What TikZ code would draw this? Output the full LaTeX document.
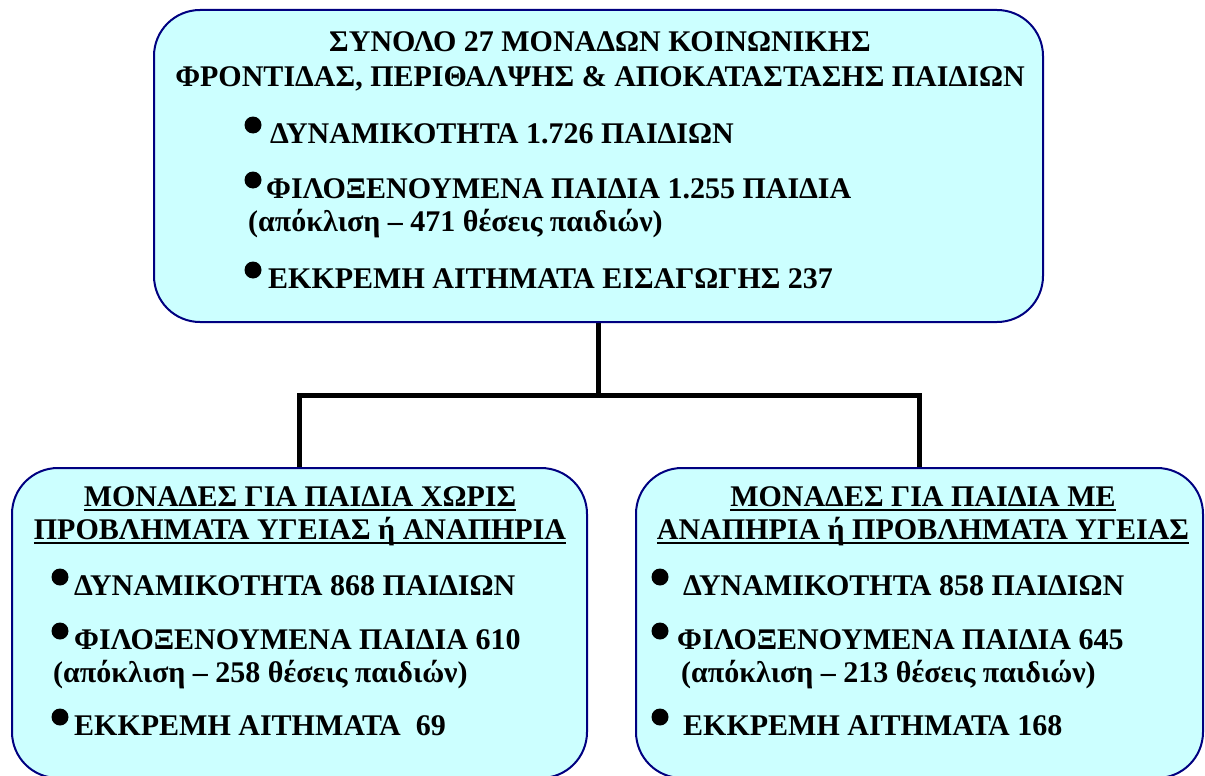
\documentclass[tikz,border=0pt]{standalone}
\usepackage{fontspec}
\setmainfont{Liberation Serif}
\usetikzlibrary{backgrounds}
\definecolor{boxfill}{HTML}{CCFFFF}
\definecolor{boxline}{HTML}{000080}
% heavier underline for the box headings
\newcommand{\headline}[1]{\setbox0\hbox{#1}\rlap{\rule[-5pt]{\wd0}{2pt}}\box0}
\tikzset{
  unitbox/.style={draw=boxline, line width=2pt, fill=boxfill, rounded corners=46pt, inner sep=0pt},
  conn/.style={line width=5pt, black},
  txt/.style={anchor=base west, inner sep=0pt, font=\fontsize{30}{30}\selectfont\bfseries},
  ttl/.style={anchor=base, inner sep=0pt, font=\fontsize{30}{30}\selectfont\bfseries},
  dot/.style={circle, fill=black, inner sep=0pt, minimum size=17pt}
}
\begin{document}
\begin{tikzpicture}[x=1pt,y=-1pt]
\useasboundingbox (0,0) rectangle (1205,776);
\clip (0,0) rectangle (1205,776);
% boxes
\node[unitbox, minimum width=889pt, minimum height=312pt] (top) at (598.5,166) {};
\node[unitbox, minimum width=575pt, minimum height=310pt] (left) at (299.5,623) {};
\node[unitbox, minimum width=567pt, minimum height=310pt] (right) at (919.5,623) {};
% connectors, drawn behind the boxes
\coordinate (split) at (599,395);
\begin{scope}[on background layer]
\draw[conn] (top.south) -- (top.south |- split) -| (left.north);
\draw[conn] (top.south |- split) -| (right.north);
\end{scope}
% top box text
\node[ttl] (t1) at (600,52) {ΣΥΝΟΛΟ 27 ΜΟΝΑΔΩΝ ΚΟΙΝΩΝΙΚΗΣ};
\node[ttl] (t2) at (600,87) {ΦΡΟΝΤΙΔΑΣ, ΠΕΡΙΘΑΛΨΗΣ \& ΑΠΟΚΑΤΑΣΤΑΣΗΣ ΠΑΙΔΙΩΝ};
\node[dot] (tb1) at (253,125) {};
\node[txt] (ta) at (270,143) {ΔΥΝΑΜΙΚΟΤΗΤΑ 1.726 ΠΑΙΔΙΩΝ};
\node[dot] (tb2) at (253,180) {};
\node[txt] (tb) at (266,198) {ΦΙΛΟΞΕΝΟΥΜΕΝΑ ΠΑΙΔΙΑ 1.255 ΠΑΙΔΙΑ};
\node[txt] (tc) at (248,231) {(απόκλιση – 471 θέσεις παιδιών)};
\node[dot] (tb3) at (253,270) {};
\node[txt] (td) at (268,288) {ΕΚΚΡΕΜΗ ΑΙΤΗΜΑΤΑ ΕΙΣΑΓΩΓΗΣ 237};
% left box text
\node[ttl] (l1) at (300,506) {\headline{ΜΟΝΑΔΕΣ ΓΙΑ ΠΑΙΔΙΑ ΧΩΡΙΣ}};
\node[ttl] (l2) at (300,539) {\headline{ΠΡΟΒΛΗΜΑΤΑ ΥΓΕΙΑΣ ή ΑΝΑΠΗΡΙΑ}};
\node[dot] (lb1) at (60,577) {};
\node[txt] (la) at (74,595) {ΔΥΝΑΜΙΚΟΤΗΤΑ 868 ΠΑΙΔΙΩΝ};
\node[dot] (lb2) at (60,631) {};
\node[txt] (lb) at (74,649) {ΦΙΛΟΞΕΝΟΥΜΕΝΑ ΠΑΙΔΙΑ 610};
\node[txt] (lc) at (53,682) {(απόκλιση – 258 θέσεις παιδιών)};
\node[dot] (lb3) at (60,717) {};
\node[txt] (ld) at (74,735) {ΕΚΚΡΕΜΗ ΑΙΤΗΜΑΤΑ\ \ 69};
% right box text
\node[ttl] (r1) at (923,506) {\headline{ΜΟΝΑΔΕΣ ΓΙΑ ΠΑΙΔΙΑ ΜΕ}};
\node[ttl] (r2) at (923,539) {\headline{ΑΝΑΠΗΡΙΑ ή ΠΡΟΒΛΗΜΑΤΑ ΥΓΕΙΑΣ}};
\node[dot] (rb1) at (660,577) {};
\node[txt] (ra) at (683,595) {ΔΥΝΑΜΙΚΟΤΗΤΑ 858 ΠΑΙΔΙΩΝ};
\node[dot] (rb2) at (660,631) {};
\node[txt] (rb) at (677,649) {ΦΙΛΟΞΕΝΟΥΜΕΝΑ ΠΑΙΔΙΑ 645};
\node[txt] (rc) at (681,682) {(απόκλιση – 213 θέσεις παιδιών)};
\node[dot] (rb3) at (660,717) {};
\node[txt] (rd) at (683,735) {ΕΚΚΡΕΜΗ ΑΙΤΗΜΑΤΑ 168};
\end{tikzpicture}
\end{document}
